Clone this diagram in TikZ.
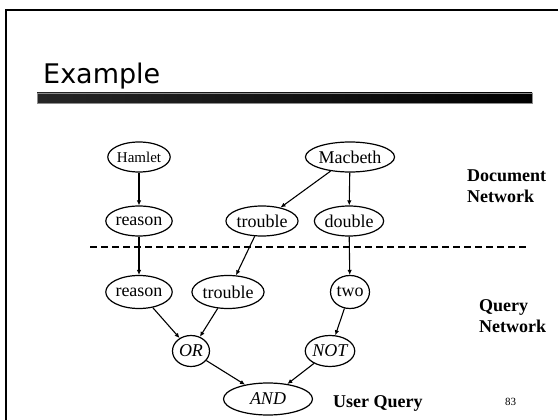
\documentclass[tikz,border=0pt]{standalone}
\usepackage{fontspec}
\setmainfont{Liberation Serif}
\newfontfamily\titlefont{DejaVu Sans}
\usetikzlibrary{shapes.geometric,arrows.meta}
\begin{document}
\begin{tikzpicture}[x=1pt,y=-1pt,
  nd/.style={ellipse,draw,line width=1.2pt,inner sep=0pt,minimum height=30pt,font=\fontsize{18}{18}\selectfont},
  conn/.style={-{Latex[length=5pt,width=4.5pt]},line width=1.1pt},
  lbl/.style={font=\bfseries\fontsize{18}{21}\selectfont,align=left,inner sep=0pt,anchor=west}]
\useasboundingbox (0,0) rectangle (558,420);
% slide frame
\draw[line width=2pt] (6,420) -- (6,10) -- (558,10);
% title and bar
\shade[left color=black!85,right color=black] (37,93) rectangle (532,103);
\draw[black!45,line width=0.6pt] (37,93) rectangle (532,103);
\node[anchor=base west,font=\titlefont\fontsize{27}{27}\selectfont,inner sep=0pt] (title) at (43,84) {Example};
% nodes
\node[nd,minimum width=56pt,font=\fontsize{15}{15}\selectfont] (hamlet) at (139,157) {Hamlet};
\node[nd,minimum width=68pt] (macbeth) at (350,157) {Macbeth};
\node[nd,minimum width=55pt] (reasonD) at (139,221) {reason};
\node[nd,minimum width=57pt] (troubleD) at (262,221) {trouble};
\node[nd,minimum width=52pt] (double) at (349,221) {double};
\node[nd,minimum width=55pt,minimum height=33pt] (reasonQ) at (139,292) {reason};
\node[nd,minimum width=56pt,minimum height=33pt] (troubleQ) at (228,292) {trouble};
\node[nd,minimum width=39pt,minimum height=33pt] (two) at (350,292) {two};
\node[nd,minimum width=37pt,minimum height=31pt] (or) at (191,351) {\itshape OR};
\node[nd,minimum width=40pt,minimum height=31pt] (not) at (330,351) {\itshape NOT};
\node[nd,minimum width=89pt,minimum height=32pt] (and) at (268,399) {\itshape AND};
% dashed separator
\coordinate (dl) at (90,247);
\coordinate (dr) at (527,247);
\draw[line width=1.3pt,dash pattern=on 7pt off 4pt] (dl) -- (dr);
% connectors
\draw[conn] (hamlet) -- (reasonD);
\draw[conn] (macbeth) -- (troubleD);
\draw[conn] (macbeth) -- (double);
\draw[conn] (reasonD) -- (reasonQ);
\draw[conn] (troubleD) -- (troubleQ);
\draw[conn] (double) -- (two);
\draw[conn] (reasonQ) -- (or);
\draw[conn] (troubleQ) -- (or);
\draw[conn] (two) -- (not);
\draw[conn] (or) -- (and);
\draw[conn] (not) -- (and);
% labels
\node[lbl] (docnet) at (467,186) {Document\\Network};
\node[lbl] (querynet) at (479,316) {Query\\Network};
\node[lbl] (userq) at (333,403) {User Query};
\node[anchor=west,inner sep=0pt,font=\fontsize{11}{11}\selectfont] (page) at (505,402) {83};
\end{tikzpicture}
\end{document}
